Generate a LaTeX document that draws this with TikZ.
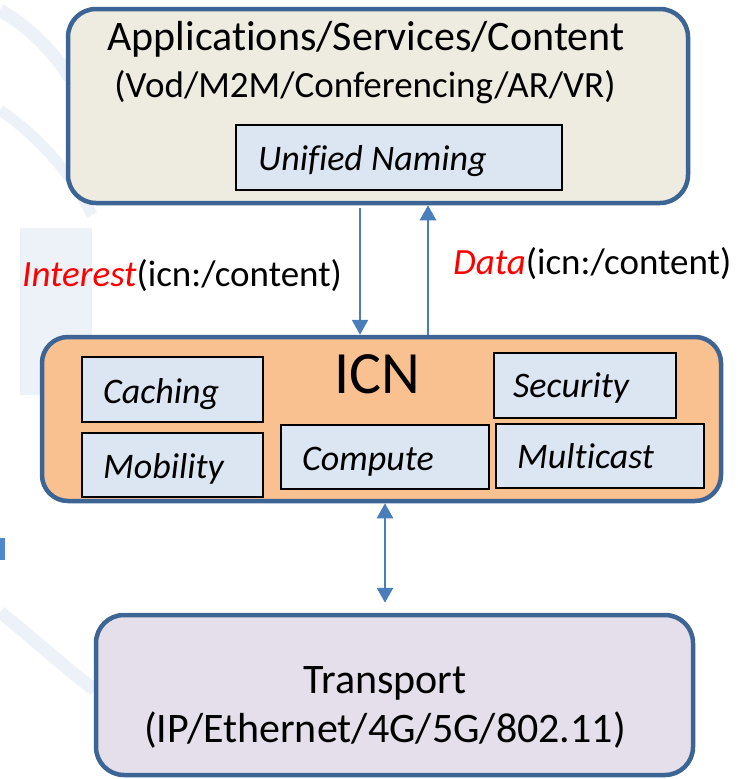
\documentclass[tikz,border=0pt]{standalone}
\usepackage{fontspec}
\setmainfont{Carlito}[Ligatures=NoCommon]
\usetikzlibrary{arrows.meta}

\definecolor{edgeblue}{HTML}{3C6494}
\definecolor{arrowblue}{HTML}{4A7EBB}
\definecolor{appfill}{HTML}{EEECE1}
\definecolor{icnfill}{HTML}{F9C090}
\definecolor{trfill}{HTML}{E5DFEC}
\definecolor{modfill}{HTML}{DCE6F2}
\definecolor{markfaint}{HTML}{EDF1F8}
\definecolor{markblue}{HTML}{5088CC}
\definecolor{keyred}{HTML}{FF0000}

\begin{document}
\begin{tikzpicture}[x=1pt,y=-1pt,
  layer/.style={draw=edgeblue, line width=4.5pt, rounded corners=28pt, inner sep=0pt},
  module/.style={draw=black, line width=1.5pt, fill=modfill, inner sep=0pt},
  modtxt/.style={inner sep=0pt, anchor=base west, font=\fontsize{36}{40}\selectfont\itshape},
  uptxt/.style={inner sep=0pt, anchor=base, font=\fontsize{#1}{#1}\selectfont},
  msgtxt/.style={inner sep=0pt, anchor=base west, font=\fontsize{37}{40}\selectfont},
  flow/.style={draw=arrowblue, line width=2.5pt},
]
\useasboundingbox (0,0) rectangle (737,779);

% faint background mark
\fill[markfaint] (20,228) rectangle (92,395);
\draw[markfaint, line width=13pt] (0,10) .. controls (30,28) and (52,50) .. (70,78);
\draw[markfaint, line width=11pt] (0,110) .. controls (40,138) and (70,172) .. (92,215);
\draw[markfaint, line width=13pt] (0,612) .. controls (35,640) and (65,668) .. (95,690);
\fill[markblue] (0,538) rectangle (5,560);

% application layer
\node[layer, fill=appfill, minimum width=620pt, minimum height=194pt] (app) at (378,106) {};
\node[uptxt=42] (apptitle) at (366,50) {Applications/Services/Content};
\node[uptxt=37] (appsub) at (365,97) {(Vod/M2M/Conferencing/AR/VR)};
\node[module, minimum width=326pt, minimum height=65pt] (naming) at (399,157.5) {};
\node[modtxt] (namingtxt) at (258,170) {Unified Naming};

% ICN layer
\node[layer, fill=icnfill, rounded corners=26pt, minimum width=679pt, minimum height=164pt] (icn) at (381.5,419) {};
\node[inner sep=0pt, anchor=base west, font=\fontsize{60}{60}\selectfont] (icntitle) at (334,393) {ICN};
\node[module, minimum width=181pt, minimum height=65pt] (caching) at (172.5,389.5) {};
\node[modtxt] (cachingtxt) at (103,403) {Caching};
\node[module, minimum width=181pt, minimum height=64pt] (mobility) at (172.5,465) {};
\node[modtxt] (mobilitytxt) at (103,478) {Mobility};
\node[module, minimum width=208pt, minimum height=64pt] (compute) at (385,457) {};
\node[modtxt] (computetxt) at (302,470) {Compute};
\node[module, minimum width=182pt, minimum height=65pt] (security) at (585,385.5) {};
\node[modtxt] (securitytxt) at (513,397) {Security};
\node[module, minimum width=208pt, minimum height=64pt] (multicast) at (600,456) {};
\node[modtxt] (multicasttxt) at (517,468) {Multicast};

% transport layer
\node[layer, fill=trfill, minimum width=597pt, minimum height=160pt] (trans) at (394.5,695) {};
\node[uptxt=42] (transtitle) at (385,693) {Transport};
\node[uptxt=42] (transsub) at (385,742) {(IP/Ethernet/4G/5G/802.11)};

% message flows
\coordinate (xint) at (360,0);
\coordinate (xdata) at (428,0);
\coordinate (xtr) at (385,0);
\draw[flow, -{Triangle[width=16pt,length=15pt]}, shorten <=3pt] (app.south -| xint) -- (icn.north -| xint);
\draw[flow, -{Triangle[width=16pt,length=15pt]}] (icn.north -| xdata) -- (app.south -| xdata);
\draw[flow, {Triangle[width=16pt,length=15pt]}-{Triangle[width=16pt,length=15pt]}, shorten >=10pt] (icn.south -| xtr) -- (trans.north -| xtr);

\node[msgtxt] (interest) at (22,286) {\textcolor{keyred}{\itshape Interest}(icn:/content)};
\node[msgtxt] (data) at (453,274) {\textcolor{keyred}{\itshape Data}(icn:/content)};
\end{tikzpicture}
\end{document}
